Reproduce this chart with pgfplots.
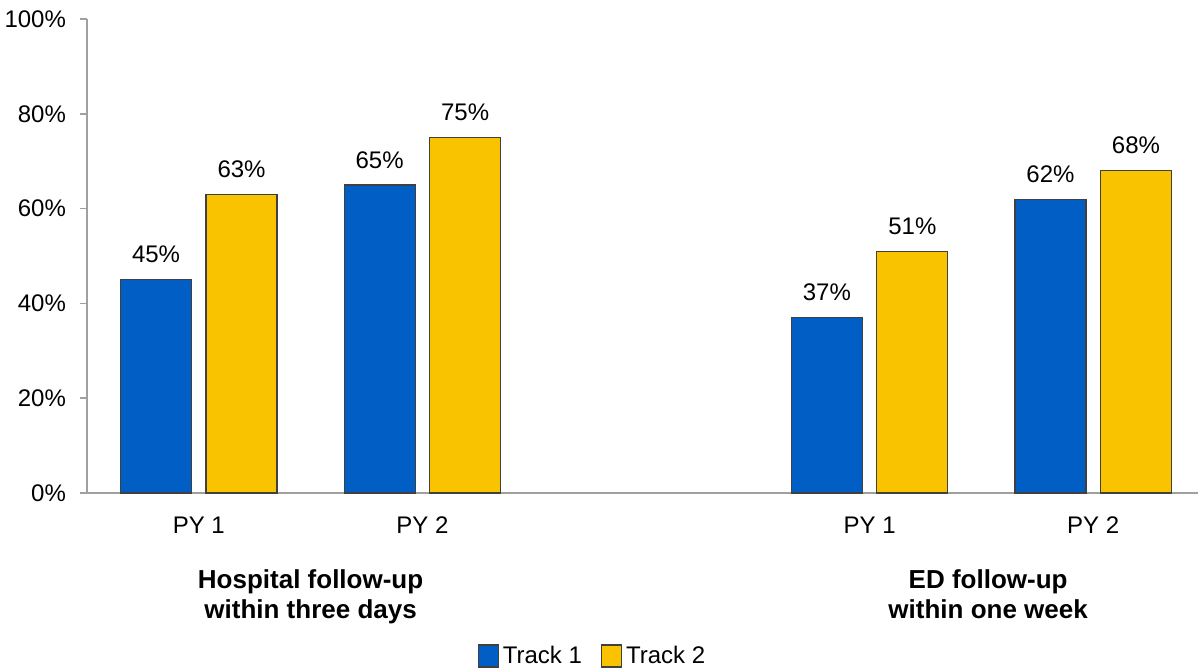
\documentclass[border=0pt]{standalone}
\usepackage{pgfplots}
\pgfplotsset{compat=1.18}
\usepackage{fontspec}
\setmainfont{Liberation Sans}
\definecolor{tblue}{RGB}{0,94,196}
\definecolor{tyellow}{RGB}{249,195,0}
\definecolor{axgray}{RGB}{160,160,160}
\begin{document}
\begin{tikzpicture}
\begin{axis}[
  at={(0,0)}, anchor=south west,
  scale only axis,
  width=559pt, height=237pt,
  xmin=-0.5, xmax=4.5,
  ymin=0, ymax=100,
  ybar=7.25pt,
  bar width=35.5pt,
  /pgf/number format/assume math mode=true,
  font=\fontsize{12}{14}\selectfont,
  axis x line*=bottom,
  axis y line*=left,
  axis line style={axgray, line width=0.8pt},
  xtick={0,1,3,4},
  xticklabels={PY 1, PY 2, PY 1, PY 2},
  x tick style={draw=none},
  xticklabel style={yshift=-5pt},
  ytick={0,20,40,60,80,100},
  yticklabel={\pgfmathprintnumber{\tick}\%},
  y tick style={axgray, line width=0.8pt},
  tick align=outside,
  major tick length=3.5pt,
  yticklabel style={xshift=-3.5pt},
  nodes near coords={\pgfmathprintnumber{\pgfplotspointmeta}\%},
  every node near coord/.append style={anchor=south, inner sep=0pt, yshift=8pt, text=black},
  legend columns=2,
  legend style={draw=none, fill=none, at={(axis description cs:0.349,-0.313)}, anchor=north west, inner sep=0pt,
    /tikz/every even column/.append style={column sep=7.5pt}},
  legend image code/.code={\draw[#1] (0pt,-5.5pt) rectangle (10pt,5.5pt);},
  clip=false,
]
\addplot[fill=tblue, draw=black!75, line width=0.6pt] coordinates {(0,45) (1,65) (3,37) (4,62)};
\addplot[fill=tyellow, draw=black!75, line width=0.6pt] coordinates {(0,63) (1,75) (3,51) (4,68)};
\legend{Track 1, Track 2}
\node[anchor=north, align=center, font=\bfseries\fontsize{13}{15}\selectfont, yshift=-35pt] at (axis cs:0.5,0) {Hospital follow-up\\within three days};
\node[anchor=north, align=center, font=\bfseries\fontsize{13}{15}\selectfont, yshift=-35pt] at (axis cs:3.53,0) {ED follow-up\\within one week};
\end{axis}
\pgfresetboundingbox
\path[use as bounding box] (-43.5pt,-88.5pt) rectangle (555.5pt,246.5pt);
\end{tikzpicture}
\end{document}
